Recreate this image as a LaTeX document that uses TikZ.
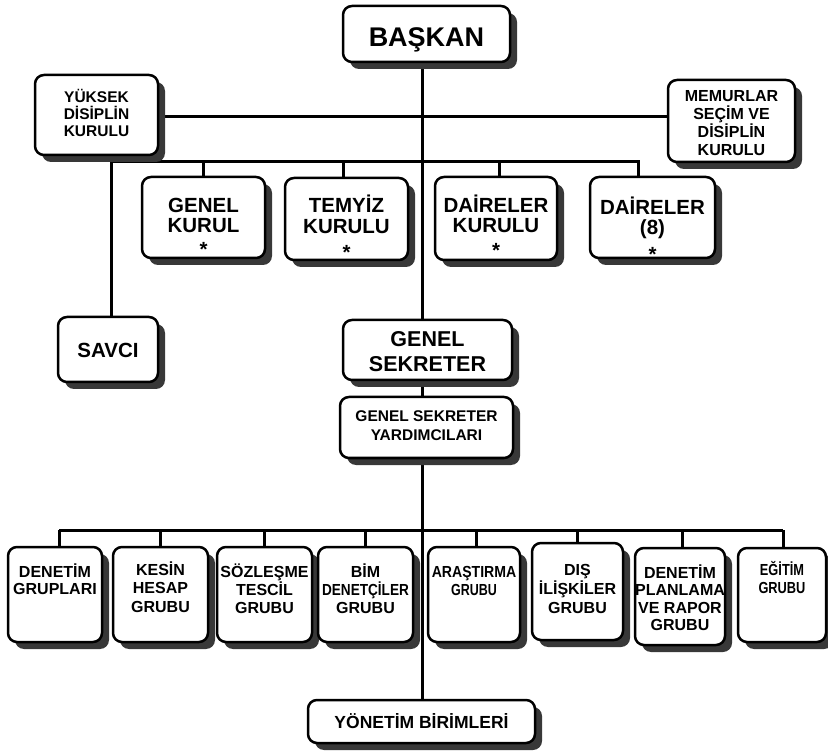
\documentclass[tikz,border=0pt]{standalone}
\usepackage{fontspec}
\setmainfont{Liberation Sans}
\usepackage{graphicx}
\usetikzlibrary{shadows,backgrounds}
\newcommand\fz[2]{\fontsize{#1}{#2}\selectfont\bfseries}
\newcommand\bxt[4]{\parbox[c][#2pt][t]{#1pt}{\centering\rule{0pt}{#3pt}#4\par}}
\newcommand\sq[2]{\scalebox{#1}[1]{#2}}
\tikzset{
  orgbox/.style={draw=black, line width=2.5pt, rounded corners=9pt, fill=white,
    inner sep=0pt, outer sep=0pt,
    drop shadow={shadow xshift=7pt, shadow yshift=-7pt, fill=black!78, opacity=1}},
  conn/.style={line width=3pt, draw=black},
}
\begin{document}
\begin{tikzpicture}[x=1pt,y=-1pt]
\useasboundingbox (0,0) rectangle (828,751);
% top level
\node[orgbox, font=\fz{27}{30}] (baskan) at (426.5,34) {\bxt{167}{56}{41}{BAŞKAN}};
\node[orgbox, font=\fz{15.5}{17}] (ydk) at (96.5,115) {\bxt{123}{80}{28}{YÜKSEK\\DİSİPLİN\\KURULU}};
\node[orgbox, font=\fz{16}{17.7}] (mem) at (731.5,121) {\bxt{127}{82}{22}{MEMURLAR\\SEÇİM VE\\DİSİPLİN\\KURULU}};
% second level
\node[orgbox, font=\fz{20.5}{20}] (gk) at (203.5,217.5) {\bxt{123}{81}{36}{GENEL\\KURUL\\[4pt]*}};
\node[orgbox, font=\fz{20.5}{21}] (tk) at (346.5,219) {\bxt{123}{82}{35}{TEMYİZ\\KURULU\\[5pt]*}};
\node[orgbox, font=\fz{20.5}{20}] (dk) at (496,218.5) {\bxt{122}{83}{36}{DAİRELER\\KURULU\\[5pt]*}};
\node[orgbox, font=\fz{20.5}{20}] (d8) at (652.5,217.5) {\bxt{125}{81}{38}{DAİRELER\\(8)\\[7pt]*}};
\node[orgbox, font=\fz{20.5}{22}] (savci) at (108,349.5) {\bxt{100}{65}{41}{SAVCI}};
\node[orgbox, font=\fz{21.5}{25}] (gs) at (427.5,350) {\bxt{169}{60}{27}{GENEL\\SEKRETER}};
\node[orgbox, font=\fz{15.5}{18}] (gsy) at (426.5,427.5) {\bxt{173}{61}{25}{GENEL SEKRETER\\YARDIMCILARI}};
% groups
\node[orgbox, font=\fz{16}{17.5}] (dg) at (55,594.5) {\bxt{94}{95}{30}{DENETİM\\GRUPLARI}};
\node[orgbox, font=\fz{16}{18.5}] (kh) at (160.5,594.5) {\bxt{95}{95}{28}{KESİN\\HESAP\\GRUBU}};
\node[orgbox, font=\fz{16}{18}] (sz) at (264.5,594.5) {\bxt{95}{95}{30}{SÖZLEŞME\\TESCİL\\GRUBU}};
\node[orgbox, font=\fz{16}{18}] (bim) at (365.5,594.5) {\bxt{95}{95}{30}{BİM\\\sq{0.85}{DENETÇİLER}\\GRUBU}};
\node[orgbox, font=\fz{16}{18}] (ar) at (474,594.5) {\bxt{92}{95}{30}{\sq{0.88}{ARAŞTIRMA}\\\sq{0.78}{GRUBU}}};
\node[orgbox, font=\fz{16}{19}] (dis) at (577.5,591.5) {\bxt{91}{97}{32}{DIŞ\\İLİŞKİLER\\GRUBU}};
\node[orgbox, font=\fz{16}{17.5}] (dpr) at (680,596.5) {\bxt{90}{97}{30}{DENETİM\\PLANLAMA\\VE RAPOR\\GRUBU}};
\node[orgbox, font=\fz{16}{18}] (eg) at (782,595) {\bxt{88}{94}{27}{\sq{0.8}{EĞİTİM}\\\sq{0.8}{GRUBU}}};
\node[orgbox, font=\fz{17.5}{20}] (yb) at (421.5,721.5) {\bxt{227}{43}{28}{YÖNETİM BİRİMLERİ}};
% connectors
\coordinate (spine) at (422,0);
\coordinate (bus1) at (0,117);
\coordinate (bus2) at (0,162);
\coordinate (bus3) at (0,530);
\begin{pgfonlayer}{background}
\fill[white] (0,0) rectangle (828,751);
\draw[conn] (baskan.south -| spine) -- (gs.north -| spine);
\draw[conn] (gs.south -| spine) -- (gsy.north -| spine);
\draw[conn] (gsy.south -| spine) -- (yb.north -| spine);
\draw[conn] (ydk.east |- bus1) -- (mem.west |- bus1);
\draw[conn] ([xshift=3pt]savci.north) -- ([xshift=3pt]savci.north |- bus2)
  -- ([xshift=-14.5pt]d8.north |- bus2) -- ([xshift=-14.5pt]d8.north);
\draw[conn] (gk.north) -- (gk.north |- bus2);
\draw[conn] ([xshift=-3.5pt]tk.north) -- ([xshift=-3.5pt]tk.north |- bus2);
\draw[conn] ([xshift=3pt]dk.north) -- ([xshift=3pt]dk.north |- bus2);
\draw[conn] ([xshift=4pt]dg.north |- bus3) -- ([xshift=1pt]eg.north |- bus3);
\draw[conn] ([xshift=4pt]dg.north) -- ([xshift=4pt]dg.north |- bus3);
\draw[conn] (kh.north) -- (kh.north |- bus3);
\draw[conn] (sz.north) -- (sz.north |- bus3);
\draw[conn] (bim.north) -- (bim.north |- bus3);
\draw[conn] ([xshift=2pt]ar.north) -- ([xshift=2pt]ar.north |- bus3);
\draw[conn] (dis.north) -- (dis.north |- bus3);
\draw[conn] ([xshift=2pt]dpr.north) -- ([xshift=2pt]dpr.north |- bus3);
\draw[conn] ([xshift=1pt]eg.north) -- ([xshift=1pt]eg.north |- bus3);
\end{pgfonlayer}
\end{tikzpicture}
\end{document}
